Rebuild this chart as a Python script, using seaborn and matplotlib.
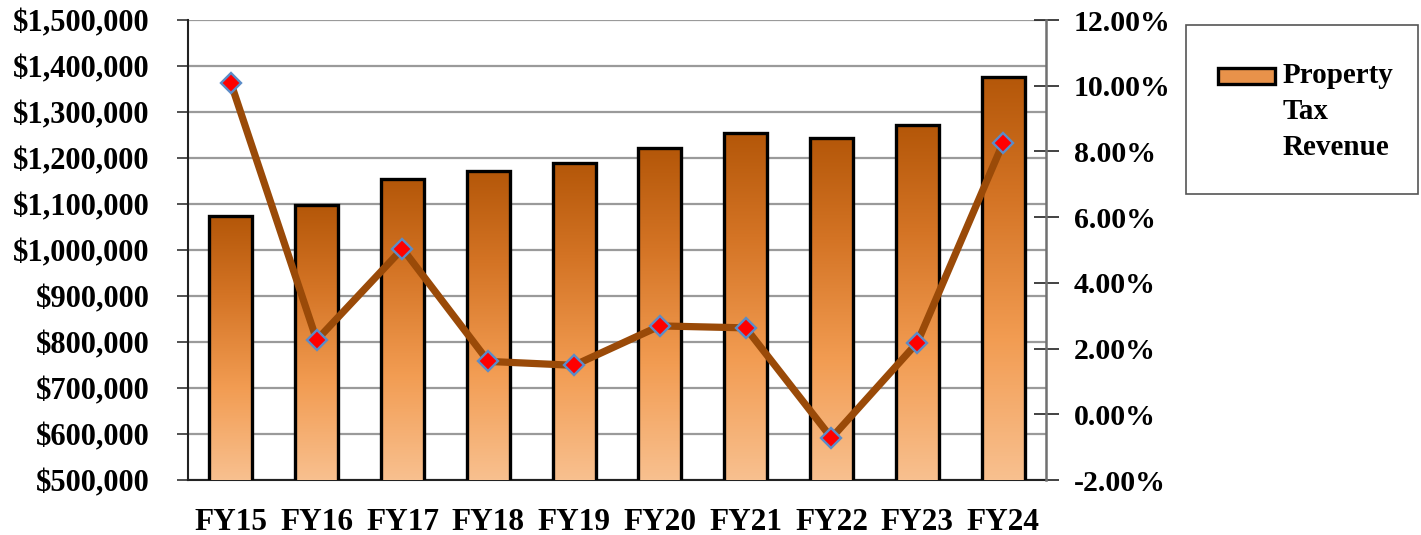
import numpy as np
import pandas as pd
import matplotlib
matplotlib.use("Agg")
import matplotlib.pyplot as plt
from matplotlib.colors import LinearSegmentedColormap
from matplotlib.patches import Rectangle, Patch
from matplotlib.legend_handler import HandlerPatch
from matplotlib.ticker import FuncFormatter, FixedLocator
import seaborn as sns

# Property tax revenue by fiscal year, with year-over-year growth (%)
years = ["FY15", "FY16", "FY17", "FY18", "FY19", "FY20", "FY21", "FY22", "FY23", "FY24"]
revenue = [1073900, 1097800, 1153600, 1172400, 1189100, 1221000, 1253600, 1244200, 1271000, 1376800]
growth_pct = [10.08, 2.26, 5.04, 1.61, 1.49, 2.69, 2.63, -0.72, 2.18, 8.26]
legend_label = "Property\nTax\nRevenue"

sns.set_style("white")
plt.rcParams["font.family"] = ["Liberation Serif", "DejaVu Serif"]
plt.rcParams["font.weight"] = "bold"
plt.rcParams["text.color"] = "black"
plt.rcParams["xtick.labelcolor"] = "black"
plt.rcParams["ytick.labelcolor"] = "black"

df = pd.DataFrame({"year": years, "revenue": revenue, "growth": growth_pct,
                   "pos": np.arange(len(years))})

fig = plt.figure(figsize=(14.21, 5.35), dpi=100)
ax = fig.add_axes([0.1323, 0.1028, 0.6038, 0.8598])

sns.barplot(data=df, x="year", y="revenue", ax=ax, width=0.5,
            color="#E08A3E", edgecolor="black", linewidth=2.4, zorder=3)

ymin, ymax = 500000, 1500000
ax.set_ylim(ymin, ymax)
ax.set_xlim(-0.5, len(years) - 0.5)

# vertical gradient fill inside every bar: dark at the top, pale at the base
cmap = LinearSegmentedColormap.from_list(
    "bar_fill", [(0.0, "#F8C08F"), (0.35, "#F29C52"), (0.7, "#D47425"), (1.0, "#B45709")])
grad = np.linspace(0, 1, 256).reshape(-1, 1)
for patch in ax.patches:
    x0, w = patch.get_x(), patch.get_width()
    top = patch.get_y() + patch.get_height()
    im = ax.imshow(grad, extent=[x0, x0 + w, ymin, top], origin="lower",
                   cmap=cmap, aspect="auto", zorder=2.9, interpolation="bilinear")
    im.set_clip_path(patch)
    patch.set_facecolor("none")
ax.set_ylim(ymin, ymax)
ax.set_xlim(-0.5, len(years) - 0.5)
ax.set_aspect("auto")

ax.set_yticks(np.arange(ymin, ymax + 1, 100000))
ax.yaxis.set_major_formatter(FuncFormatter(lambda v, p: f"${v:,.0f}"))
ax.yaxis.grid(True, color="#9A9A9A", linewidth=1.6)
ax.set_axisbelow(True)
ax.set_xlabel("")
ax.set_ylabel("")

# category boundary ticks on the x axis
ax.xaxis.set_minor_locator(FixedLocator(np.arange(-0.5, len(years), 1.0)))
ax.tick_params(axis="x", which="major", length=0, pad=20, labelsize=22.5)
ax.tick_params(axis="x", which="minor", length=18, direction="inout", width=1.2, color="#333333")
ax.tick_params(axis="y", which="major", length=8, width=1.2, color="#333333",
               labelsize=22, pad=19.5, direction="out")
for lab in ax.get_xticklabels() + ax.get_yticklabels():
    lab.set_fontweight("bold")

for side in ["top", "right"]:
    ax.spines[side].set_visible(False)
ax.spines["left"].set_color("#222222")
ax.spines["left"].set_linewidth(1.5)
ax.spines["bottom"].set_color("#222222")
ax.spines["bottom"].set_linewidth(1.5)

# growth rate on the secondary axis
ax2 = ax.twinx()
sns.lineplot(data=df, x="pos", y="growth", ax=ax2, color="#9A4A08", linewidth=5.2,
             marker="D", markersize=10, markerfacecolor="#FF0000",
             markeredgecolor="#5B8CC8", markeredgewidth=1.7, zorder=5)
ax2.set_ylim(-2, 12)
ax2.set_xlim(-0.5, len(years) - 0.5)
ax2.set_yticks(np.arange(-2, 12.01, 2))
ax2.yaxis.set_major_formatter(FuncFormatter(lambda v, p: f"{v:.2f}%"))
ax2.tick_params(axis="y", length=18, width=1.2, color="#222222", direction="inout",
                labelsize=21.5, pad=11)
for lab in ax2.get_yticklabels():
    lab.set_fontweight("bold")
ax2.set_ylabel("")
ax2.set_xlabel("")
ax2.grid(False)
for side in ["top", "left", "bottom"]:
    ax2.spines[side].set_visible(False)
ax2.spines["right"].set_color("#707070")
ax2.spines["right"].set_linewidth(1.8)


def top_handle(legend, orig_handle, xdescent, ydescent, width, height, fontsize):
    h = 0.55 * fontsize
    return Rectangle((-xdescent, -ydescent + height - h + 0.28 * fontsize), width, h)


# legend: swatch next to the first line of the label, inside a plain box
handle = Patch(facecolor="#E8924A", edgecolor="black", linewidth=2.4)
leg = fig.legend([handle], [legend_label], loc="upper left",
                 bbox_to_anchor=(0.8571, 0.8841), bbox_transform=fig.transFigure,
                 prop={"family": "Liberation Serif", "weight": "bold", "size": 21},
                 frameon=False, borderpad=0, handlelength=1.95,
                 handleheight=3.6, handletextpad=0.25, borderaxespad=0,
                 handler_map={Patch: HandlerPatch(patch_func=top_handle)})
for t in leg.get_texts():
    t.set_linespacing(1.42)
    t.set_color("black")

box = Rectangle((1186 / 1421, 1 - 194 / 535), 232 / 1421, 169 / 535,
                transform=fig.transFigure, facecolor="white", edgecolor="#555555",
                linewidth=1.2, zorder=0)
fig.add_artist(box)

fig.savefig("out.png", dpi=100)
